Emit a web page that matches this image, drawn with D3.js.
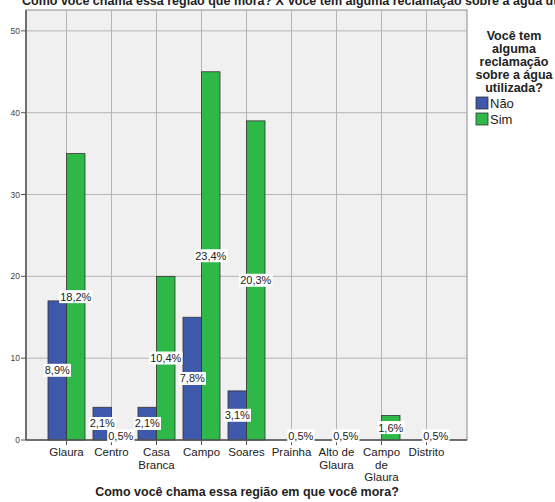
<!DOCTYPE html>
<html>
<head>
<meta charset="UTF-8">
<script src="https://cdn.jsdelivr.net/npm/d3@7"></script>
<style>
body { margin:0; background:#fff; }
text { font-family: "Liberation Sans", Arial, sans-serif; }
</style>
</head>
<body>
<script>

var categories = ["Glaura", "Centro", "Casa Branca", "Campo", "Soares", "Prainha", "Alto de Glaura", "Campo de Glaura", "Distrito"];
var catLines = [["Glaura"], ["Centro"], ["Casa", "Branca"], ["Campo"], ["Soares"], ["Prainha"], ["Alto de", "Glaura"], ["Campo", "de", "Glaura"], ["Distrito"]];
var series = ["Não", "Sim"];
var naoValues = [17, 4, 4, 15, 6, 0, 0, 0, 0];
var simValues = [35, 1, 20, 45, 39, 1, 1, 3, 1];
var naoLabels = ["8,9%", "2,1%", "2,1%", "7,8%", "3,1%", "", "", "", ""];
var simLabels = ["18,2%", "0,5%", "10,4%", "23,4%", "20,3%", "0,5%", "0,5%", "1,6%", "0,5%"];
var yTicks = [0, 10, 20, 30, 40, 50];

var width = 555, height = 502;
// note: "top" is taken by window.top, so plot edges get own names
var pLeft = 26, pRight = 467, pTop = 10, pBottom = 440;

var svg = d3.select("body").append("svg")
    .attr("width", width)
    .attr("height", height);

var x = d3.scaleBand().domain(categories).range([pLeft, pRight]).paddingInner(0).paddingOuter(0.4);
var xs = d3.scaleBand().domain(series).range([0, x.bandwidth()]).paddingInner(0).paddingOuter(0.216);
var y = d3.scaleLinear().domain([0, 52.55]).range([pBottom, pTop]);
var color = d3.scaleOrdinal().domain(series).range(["#3e58ac", "#2eb848"]);

// plot background
svg.append("rect")
    .attr("x", pLeft).attr("y", pTop)
    .attr("width", pRight - pLeft).attr("height", pBottom - pTop)
    .attr("fill", "#f0f0f0")
    .attr("stroke", "#8a8a8a");

// grid
svg.append("g").selectAll("line")
    .data(yTicks.slice(1))
    .enter().append("line")
    .attr("x1", pLeft).attr("x2", pRight)
    .attr("y1", function(d) { return y(d); })
    .attr("y2", function(d) { return y(d); })
    .attr("stroke", "#b4b4b4");

svg.append("g").selectAll("line")
    .data(categories)
    .enter().append("line")
    .attr("x1", function(d) { return x(d) + x.bandwidth() / 2; })
    .attr("x2", function(d) { return x(d) + x.bandwidth() / 2; })
    .attr("y1", pTop).attr("y2", pBottom)
    .attr("stroke", "#b4b4b4");

// bars
var rows = [];
categories.forEach(function(c, i) {
    rows.push({cat: c, s: "Não", v: naoValues[i], label: naoLabels[i]});
    rows.push({cat: c, s: "Sim", v: simValues[i], label: simLabels[i]});
});

svg.append("g").selectAll("rect")
    .data(rows.filter(function(d) { return d.v > 0; }))
    .enter().append("rect")
    .attr("x", function(d) { return x(d.cat) + xs(d.s); })
    .attr("y", function(d) { return y(d.v); })
    .attr("width", xs.bandwidth())
    .attr("height", function(d) { return y(0) - y(d.v); })
    .attr("fill", function(d) { return color(d.s); })
    .attr("stroke", "#333")
    .attr("stroke-width", 0.8);

// axes
svg.append("line").attr("x1", pLeft).attr("x2", pLeft).attr("y1", pTop).attr("y2", pBottom)
    .attr("stroke", "#555").attr("stroke-width", 1.5);
svg.append("line").attr("x1", pLeft).attr("x2", pRight).attr("y1", pBottom).attr("y2", pBottom)
    .attr("stroke", "#555").attr("stroke-width", 1.5);

var yt = svg.append("g").selectAll("g").data(yTicks).enter().append("g");
yt.append("line")
    .attr("x1", pLeft - 5).attr("x2", pLeft)
    .attr("y1", function(d) { return y(d); })
    .attr("y2", function(d) { return y(d); })
    .attr("stroke", "#555");
yt.append("text")
    .attr("x", pLeft - 6)
    .attr("y", function(d) { return y(d) + 3; })
    .attr("text-anchor", "end")
    .attr("font-size", 8.5)
    .attr("fill", "#444")
    .text(function(d) { return d; });

var xt = svg.append("g").selectAll("g").data(categories).enter().append("g")
    .attr("transform", function(d) { return "translate(" + (x(d) + x.bandwidth() / 2) + ",0)"; });
xt.append("line")
    .attr("y1", pBottom).attr("y2", pBottom + 5)
    .attr("stroke", "#555");
xt.append("text")
    .attr("text-anchor", "middle")
    .attr("font-size", 11.5)
    .attr("fill", "#222")
    .selectAll("tspan")
    .data(function(d, i) { return catLines[i]; })
    .enter().append("tspan")
    .attr("x", 0)
    .attr("y", function(d, j) { return 456 + j * 12.5; })
    .text(function(d) { return d; });

// data labels
var lab = svg.append("g").selectAll("g")
    .data(rows.filter(function(d) { return d.label != ""; }))
    .enter().append("g")
    .attr("transform", function(d) {
        return "translate(" + (x(d.cat) + xs(d.s) + xs.bandwidth() / 2) + "," + y(d.v / 2) + ")";
    });
lab.append("text")
    .attr("text-anchor", "middle")
    .attr("dy", "0.35em")
    .attr("font-size", 11)
    .attr("fill", "#222")
    .text(function(d) { return d.label; });
lab.each(function() {
    var g = d3.select(this);
    var bb = g.select("text").node().getBBox();
    g.insert("rect", "text")
        .attr("x", bb.x - 1).attr("y", bb.y - 0.5)
        .attr("width", bb.width + 2).attr("height", bb.height + 1)
        .attr("fill", "#fff");
});

// titles
svg.append("text")
    .attr("x", 22).attr("y", 5)
    .attr("font-size", 12.5)
    .attr("font-weight", "bold")
    .attr("fill", "#222")
    .text("Como você chama essa região que mora? X Você tem alguma reclamação sobre a água utilizada?");

svg.append("text")
    .attr("x", 247).attr("y", 496)
    .attr("text-anchor", "middle")
    .attr("font-size", 12.5)
    .attr("font-weight", "bold")
    .attr("fill", "#222")
    .text("Como você chama essa região em que você mora?");

// legend
var legTitle = ["Você tem", "alguma", "reclamação", "sobre a água", "utilizada?"];
svg.append("text")
    .attr("text-anchor", "middle")
    .attr("font-size", 12.5)
    .attr("font-weight", "bold")
    .attr("fill", "#222")
    .selectAll("tspan")
    .data(legTitle)
    .enter().append("tspan")
    .attr("x", 514)
    .attr("y", function(d, i) { return 40 + i * 13; })
    .text(function(d) { return d; });

var leg = svg.append("g").selectAll("g").data(series).enter().append("g")
    .attr("transform", function(d, i) { return "translate(476," + (97 + i * 16) + ")"; });
leg.append("rect")
    .attr("width", 12).attr("height", 12)
    .attr("fill", function(d) { return color(d); })
    .attr("stroke", "#333").attr("stroke-width", 0.8);
leg.append("text")
    .attr("x", 14).attr("y", 11)
    .attr("font-size", 13)
    .attr("fill", "#222")
    .text(function(d) { return d; });

</script>
</body>
</html>
